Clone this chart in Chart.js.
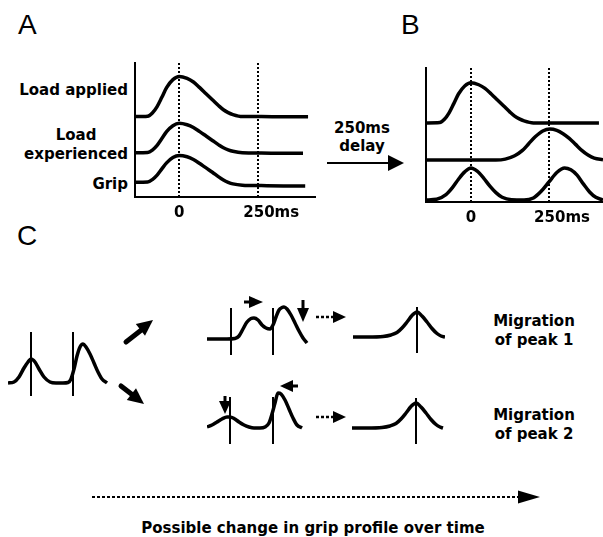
<!DOCTYPE html>
<html>
<head>
<meta charset="utf-8">
<script src="https://cdn.jsdelivr.net/npm/chart.js@4/dist/chart.umd.min.js"></script>
<style>
  body { margin: 0; background: #fff; }
  #fig { position: relative; width: 603px; height: 537px; overflow: hidden; background: #fff; }
  .lbl { position: absolute; font-family: "DejaVu Sans", sans-serif; font-weight: bold; font-size: 15px; line-height: 19px; color: #000; white-space: nowrap; }
  .big { position: absolute; font-family: "Liberation Sans", Arial, sans-serif; font-size: 28px; line-height: 32px; color: #000; }
  svg { position: absolute; left: 0; top: 0; }
</style>
</head>
<body>
<div id="fig">
  <div class="big" style="left:18px;top:9px">A</div>
  <div class="big" style="left:401px;top:9px">B</div>
  <div class="big" style="left:17px;top:220px">C</div>

  <div class="lbl" style="right:475px;top:81px;text-align:right">Load applied</div>
  <div class="lbl" style="right:475px;top:126px;text-align:center">Load<br>experienced</div>
  <div class="lbl" style="right:475px;top:175px;text-align:right">Grip</div>

  <div class="lbl" style="left:322px;width:80px;top:119px;line-height:18px;text-align:center">250ms<br>delay</div>

  <div class="lbl" style="left:484px;width:100px;top:312px;text-align:center">Migration<br>of peak 1</div>
  <div class="lbl" style="left:484px;width:100px;top:406px;text-align:center">Migration<br>of peak 2</div>

  <div class="lbl" style="left:113px;width:400px;top:519px;text-align:center">Possible change in grip profile over time</div>
</div>

<script>
// Panel A: time (ms) and curve heights (arbitrary units, 0-10)
const tLoadApplied = [-140, -100, -85, -70, -55, -40, -20, 0, 25, 45, 65, 85, 105, 125, 140, 155, 170, 200, 260, 330, 408];
const loadApplied = [6.0, 6.03, 6.27, 6.75, 7.44, 8.16, 8.76, 9.0, 8.85, 8.58, 8.16, 7.71, 7.26, 6.81, 6.51, 6.3, 6.15, 6.0, 6.0, 5.98, 5.98];
const tLoadExp = [-140, -100, -85, -70, -55, -40, -20, 0, 25, 45, 65, 85, 105, 125, 140, 155, 170, 200, 260, 330, 392];
const loadExperienced = [3.3, 3.32, 3.5, 3.85, 4.36, 4.88, 5.32, 5.5, 5.39, 5.19, 4.88, 4.55, 4.22, 3.89, 3.67, 3.52, 3.41, 3.3, 3.28, 3.26, 3.26];
const tGripA = [-140, -100, -85, -70, -55, -40, -20, 0, 25, 45, 65, 85, 105, 125, 140, 155, 170, 200, 260, 330, 399];
const gripA = [1.1, 1.12, 1.3, 1.63, 2.1, 2.55, 2.95, 3.1, 3.0, 2.8, 2.5, 2.17, 1.85, 1.5, 1.27, 1.1, 0.98, 0.88, 0.85, 0.83, 0.82];

// Panel B
const tTopB = [-144, -100, -85, -70, -55, -40, -20, 0, 25, 45, 65, 85, 105, 125, 140, 155, 170, 200, 260, 330, 410];
const topB = [5.9, 5.93, 6.17, 6.65, 7.34, 8.06, 8.66, 8.9, 8.75, 8.48, 8.06, 7.61, 7.16, 6.71, 6.41, 6.2, 6.05, 5.9, 5.9, 5.9, 5.9];
const tMidB = [-144, 80, 110, 140, 165, 185, 205, 230, 253, 275, 295, 315, 335, 355, 375, 395, 423];
const midB = [3.13, 3.13, 3.2, 3.45, 3.85, 4.35, 4.85, 5.3, 5.45, 5.35, 5.1, 4.75, 4.3, 3.85, 3.5, 3.27, 3.15];
const tBotB = [-144, -110, -80, -60, -40, -20, 0, 20, 40, 60, 80, 100, 130, 170, 200, 225, 250, 275, 300, 320, 340, 360, 380, 400, 423];
const botB = [0.15, 0.2, 0.55, 1.05, 1.7, 2.25, 2.54, 2.3, 1.8, 1.2, 0.7, 0.35, 0.17, 0.15, 0.3, 0.8, 1.5, 2.2, 2.54, 2.4, 2.0, 1.35, 0.75, 0.35, 0.15];

const tickValues = [0, 250];
const tickLabels = ['0', '\u2007\u2007 250ms'];

// Panel C profiles (local units)
const tLeftC = [0, 6, 11, 16, 20, 23, 27, 31, 36, 42, 48, 55, 60, 63, 66, 69, 72, 75, 78, 82, 86, 90, 94, 99];
const leftC = [13, 14, 19, 28, 34, 37, 34, 27, 19, 14, 13, 13, 13.5, 17, 27, 40, 49, 52, 49, 42, 33, 24, 17, 13];
const leftPeaks = [23, 65];

const tTopC = [0, 10, 20, 28, 32, 36, 40, 44, 47, 51, 55, 59, 63, 66, 69, 72, 75, 77, 80, 84, 88, 92, 96, 100];
const topC = [16, 16, 16, 16.5, 19, 26, 33, 36.5, 37, 35, 30, 27, 26, 30, 38, 45, 47.5, 48, 46, 40, 32, 24, 17, 12];
const topPeaks = [24, 66];

const tBotC = [0, 5, 10, 15, 20, 23, 27, 32, 37, 42, 47, 53, 58, 62, 65, 68, 71, 74, 78, 82, 86, 90, 95];
const botC = [17, 19, 22, 25, 27, 27, 25.5, 22, 19, 17, 16, 16, 17, 21, 30, 41, 51, 50, 44, 35, 26, 19, 16];
const botPeaks = [23, 66];

const tEnd1 = [0, 15, 30, 38, 44, 49, 54, 59, 64, 69, 74, 79, 84, 88, 92];
const end1 = [16, 16, 16.5, 18, 20.5, 25, 31, 37.5, 41, 37, 31, 24.5, 19.5, 17, 16];
const tEnd2 = [0, 15, 30, 38, 44, 49, 54, 59, 64, 69, 74, 79, 84, 88, 91];
const end2 = [16, 16, 16.5, 18, 20.5, 25, 31, 37.5, 41, 37, 31, 24.5, 19.5, 17, 16];
const endPeak = [64];

const BLACK = '#000';
const tickFont = { family: '"DejaVu Sans", sans-serif', size: 15, weight: 'bold' };

function curve(xs, ys) {
  return {
    data: xs.map((x, i) => ({ x: x, y: ys[i] })),
    showLine: true, borderColor: BLACK, borderWidth: 3.5,
    pointRadius: 0, cubicInterpolationMode: 'monotone'
  };
}

function marker(x, lo, hi) {
  return {
    data: [{ x: x, y: lo }, { x: x, y: hi }],
    showLine: true, borderColor: BLACK, borderWidth: 2, pointRadius: 0
  };
}

function place(id, left, top, width, height) {
  const c = document.createElement('canvas');
  c.id = id;
  c.width = width;
  c.height = height;
  c.style.cssText = 'position:absolute;left:' + left + 'px;top:' + top + 'px;';
  document.getElementById('fig').appendChild(c);
  return c.getContext('2d');
}

function axisOptions(xmin, xmax, pad) {
  return {
    responsive: false, animation: false, events: [],
    layout: { padding: pad },
    plugins: { legend: { display: false }, tooltip: { enabled: false } },
    scales: {
      x: {
        type: 'linear', min: xmin, max: xmax,
        afterBuildTicks: s => { s.ticks = tickValues.map(v => ({ value: v })); },
        afterFit: s => { s.height = 31; },
        ticks: {
          autoSkip: false, maxRotation: 0, padding: 7, color: BLACK, font: tickFont,
          callback: v => tickLabels[tickValues.indexOf(v)]
        },
        grid: { drawTicks: false, color: BLACK, lineWidth: 2 },
        border: { display: true, color: BLACK, width: 2, dash: [2, 2] }
      },
      y: {
        min: 0, max: 10,
        ticks: { display: false },
        grid: { display: false, drawTicks: false },
        border: { display: true, color: BLACK, width: 2 },
        afterFit: s => { s.width = 0; }
      }
    }
  };
}

function mini(id, left, top, w, h, datasets) {
  const pad = 4;
  const ctx = place(id, left - pad, top - pad, w + 2 * pad, h + 2 * pad);
  return new Chart(ctx, {
    type: 'scatter',
    data: { datasets: datasets },
    options: {
      responsive: false, animation: false, events: [],
      layout: { padding: pad },
      plugins: { legend: { display: false }, tooltip: { enabled: false } },
      scales: {
        x: { type: 'linear', min: 0, max: w, display: false },
        y: { type: 'linear', min: 0, max: h, display: false }
      }
    }
  });
}

// A
new Chart(place('chartA', 133, 58, 190, 170), {
  type: 'scatter',
  data: { datasets: [curve(tLoadApplied, loadApplied), curve(tLoadExp, loadExperienced), curve(tGripA, gripA)] },
  options: axisOptions(-140, 430, { left: 2, top: 5, right: 8, bottom: 0 })
});

// B
new Chart(place('chartB', 424, 63, 179, 170), {
  type: 'scatter',
  data: { datasets: [curve(tTopB, topB), curve(tMidB, midB), curve(tBotB, botB)] },
  options: axisOptions(-144, 423, { left: 2, top: 5, right: 0, bottom: 0 })
});

// C
mini('cLeft', 8, 332, 100, 64, [curve(tLeftC, leftC)].concat(leftPeaks.map(p => marker(p, 0, 64))));
mini('cTop', 207, 300, 103, 55, [curve(tTopC, topC)].concat(topPeaks.map(p => marker(p, 0, 47))));
mini('cBot', 207, 390, 103, 54, [curve(tBotC, botC)].concat(botPeaks.map(p => marker(p, 0, 47))));
mini('cEnd1', 353, 305, 92, 48, [curve(tEnd1, end1)].concat(endPeak.map(p => marker(p, 0, 46))));
mini('cEnd2', 352, 396, 92, 48, [curve(tEnd2, end2)].concat(endPeak.map(p => marker(p, 0, 46))));
</script>

<svg width="603" height="537" style="position:absolute;left:0;top:0" id="arrows">
  <g fill="#000" stroke="#000">
    <!-- 250ms delay -->
    <line x1="327" y1="163" x2="392" y2="163" stroke-width="2"/>
    <polygon points="388,155 404,163 388,171" stroke="none"/>
    <!-- branch arrows -->
    <line x1="126" y1="342" x2="142" y2="329.5" stroke-width="5" stroke-linecap="round"/>
    <polygon points="153,320 145.0,335.8 135.8,324.0" stroke="none"/>
    <line x1="121" y1="386" x2="132" y2="394.5" stroke-width="5" stroke-linecap="round"/>
    <polygon points="144,404 126.8,400.0 136.0,388.2" stroke="none"/>
    <!-- migration markers, top -->
    <line x1="244" y1="302" x2="251" y2="302" stroke-width="3"/>
    <polygon points="249,296 263,302 249,308" stroke="none"/>
    <line x1="303" y1="300" x2="303" y2="309" stroke-width="3"/>
    <polygon points="297,308 309,308 303,322" stroke="none"/>
    <!-- migration markers, bottom -->
    <line x1="225" y1="396" x2="225" y2="402" stroke-width="3"/>
    <polygon points="219,401 231,401 225,414" stroke="none"/>
    <line x1="291" y1="386" x2="298" y2="386" stroke-width="3"/>
    <polygon points="280,386 293,380 293,392" stroke="none"/>
    <!-- dotted arrows -->
    <line x1="316" y1="317" x2="334" y2="317" stroke-width="2.5" stroke-dasharray="3,2"/>
    <polygon points="333,311 346,317 333,323" stroke="none"/>
    <line x1="316" y1="417" x2="334" y2="417" stroke-width="2.5" stroke-dasharray="3,2"/>
    <polygon points="333,411 346,417 333,423" stroke="none"/>
    <line x1="92" y1="497" x2="520" y2="497" stroke-width="2" stroke-dasharray="3,2"/>
    <polygon points="518,490.5 540,497 518,503.5" stroke="none"/>
  </g>
</svg>
</body>
</html>
